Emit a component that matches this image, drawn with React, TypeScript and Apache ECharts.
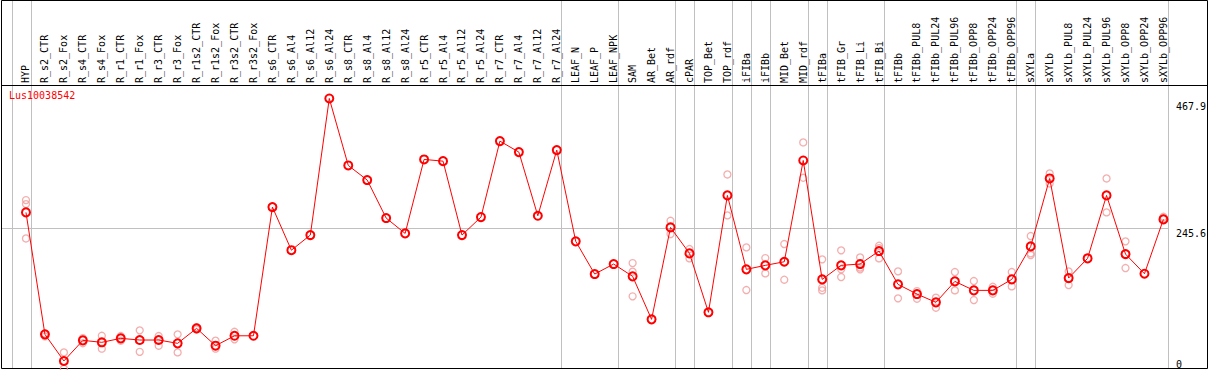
import React, { useEffect, useRef } from "react";
import * as echarts from "echarts";

const geneId = "Lus10038542";

const categories = [
  "HYP", "R_s2_CTR", "R_s2_Fox", "R_s4_CTR", "R_s4_Fox", "R_r1_CTR", "R_r1_Fox", "R_r3_CTR", "R_r3_Fox",
  "R_r1s2_CTR", "R_r1s2_Fox", "R_r3s2_CTR", "R_r3s2_Fox", "R_s6_CTR", "R_s6_Al4", "R_s6_Al12", "R_s6_Al24",
  "R_s8_CTR", "R_s8_Al4", "R_s8_Al12", "R_s8_Al24", "R_r5_CTR", "R_r5_Al4", "R_r5_Al12", "R_r5_Al24",
  "R_r7_CTR", "R_r7_Al4", "R_r7_Al12", "R_r7_Al24", "LEAF_N", "LEAF_P", "LEAF_NPK", "SAM", "AR_Bet",
  "AR_rdf", "cPAR", "TOP_Bet", "TOP_rdf", "iFIBa", "iFIBb", "MID_Bet", "MID_rdf", "tFIBa", "tFIB_Gr",
  "tFIB_Li", "tFIB_Bi", "tFIBb", "tFIBb_PUL8", "tFIBb_PUL24", "tFIBb_PUL96", "tFIBb_OPP8", "tFIBb_OPP24",
  "tFIBb_OPP96", "sXYLa", "sXYLb", "sXYLb_PUL8", "sXYLb_PUL24", "sXYLb_PUL96", "sXYLb_OPP8", "sXYLb_OPP24",
  "sXYLb_OPP96",
];

const means = [
  273.5, 60.5, 14, 50, 46.6, 53.5, 50.6, 50.6, 44.8, 71, 40.7, 58, 58, 282.8, 207.5, 233.9, 472.5,
  355.5, 330, 263.6, 236.8, 366, 363, 233.9, 265.3, 398, 378.8, 267.6, 382.3, 222.9, 165.8, 183.3,
  161.8, 86.7, 247.3, 201.9, 99, 303.2, 174, 181, 187.3, 364.2, 156.5, 181, 183.3, 206, 147.8, 130.9,
  116.4, 153, 137.3, 137.3, 156.5, 214.1, 332.8, 158.8, 193.2, 303.2, 200.7, 166.4, 261.3,
];

const replicates: number[][] = [
  [295, 288, 228], [62, 57], [29, 0.5], [54, 45], [58, 35.5], [57.6, 49.4], [67.5, 30], [57.6, 40.7],
  [60.5, 29], [73, 69], [49.4, 35.5], [65, 51.8], [], [], [], [], [], [], [], [], [], [], [], [], [],
  [], [], [], [], [], [], [], [185, 170, 126.9], [], [258.9, 235.6], [209.5, 193.2], [], [339.8, 268.3],
  [212.4, 137.9], [193.7, 167], [218.2, 155.9], [395.7, 334], [191.5, 141.9, 137.3], [207.2, 174, 160.6],
  [195, 174, 177], [215.3, 211, 193.2], [170.5, 123.4], [136.1, 122.7], [124.5, 107], [169.3, 137.3],
  [153.6, 120.4], [143.7, 131.5], [169.3, 144.3], [232.2, 201.9, 199], [341.5, 324], [170.5, 146.6], [],
  [332.8, 273.5], [222.9, 176.3], [], [265.8, 263],
];

const yTickLabels = [0, 245.6, 467.9];
const gridValue = 245.6;
// index of the last category in each group (-1 = before the first one)
const groupEnds = [-1, 0, 28, 31, 34, 35, 37, 38, 39, 41, 42, 45, 52, 53, 60];

const FONT = "'DejaVu Sans Mono', monospace";
const GRAY = "#c0c0c0";

export default function App() {
  const ref = useRef<HTMLDivElement>(null);

  useEffect(() => {
    if (!ref.current) return;
    const chart = echarts.init(ref.current, null, { renderer: "svg" });

    const repData: [number, number][] = [];
    replicates.forEach((vals, i) => vals.forEach((v) => repData.push([i, v])));

    chart.setOption({
      animation: false,
      backgroundColor: "#ffffff",
      title: {
        text: geneId,
        left: 9,
        top: 90,
        padding: 0,
        textStyle: { color: "#ff0000", fontFamily: FONT, fontSize: 10, fontWeight: "normal" },
      },
      grid: { left: 16.5, right: 33.5, top: 85, bottom: 1 },
      xAxis: [
        {
          type: "category",
          position: "top",
          data: categories,
          boundaryGap: true,
          axisLine: { show: false },
          axisTick: { show: false },
          splitLine: { show: false },
          axisLabel: {
            rotate: 90,
            interval: 0,
            margin: 2,
            color: "#000",
            fontFamily: FONT,
            fontSize: 10,
          },
        },
        {
          type: "value",
          position: "top",
          min: -0.5,
          max: categories.length - 0.5,
          show: false,
        },
      ],
      yAxis: {
        type: "value",
        position: "right",
        min: 0,
        max: 496,
        axisLine: { show: false },
        axisTick: { show: false },
        splitLine: { show: false },
        axisLabel: {
          customValues: yTickLabels,
          showMinLabel: true,
          showMaxLabel: true,
          margin: 3,
          color: "#000",
          fontFamily: FONT,
          fontSize: 10,
          verticalAlign: "top",
          verticalAlignMinLabel: "bottom",
          formatter: (v: number) => String(v),
        },
      },
      series: [
        {
          type: "scatter",
          data: repData,
          symbol: "circle",
          symbolSize: 7,
          itemStyle: { color: "transparent", borderColor: "#f09a9a", borderWidth: 1.3 },
          z: 2,
        },
        {
          type: "line",
          data: means,
          symbol: "circle",
          symbolSize: 8,
          showAllSymbol: true,
          lineStyle: { color: "#ff0000", width: 1 },
          itemStyle: { color: "transparent", borderColor: "#ff0000", borderWidth: 2 },
          z: 3,
        },
      ],
    });

    const yGrid = chart.convertToPixel({ yAxisIndex: 0 }, gridValue) as number;
    const sepX = groupEnds.map(
      (k) => Math.round(chart.convertToPixel({ xAxisIndex: 1 }, k + 0.24) as number) + 0.5
    );
    const yg = Math.round(yGrid) + 0.5;
    const lastX = sepX[sepX.length - 1];

    const graphic: any[] = [];
    sepX.forEach((x) =>
      graphic.push({
        type: "line",
        silent: true,
        z: 0,
        shape: { x1: x, y1: 0, x2: x, y2: 369 },
        style: { stroke: GRAY, lineWidth: 1 },
      })
    );
    graphic.push({
      type: "line",
      silent: true,
      z: 0,
      shape: { x1: 1, y1: yg, x2: lastX, y2: yg },
      style: { stroke: GRAY, lineWidth: 1 },
    });
    graphic.push({
      type: "line",
      silent: true,
      z: 1,
      shape: { x1: 1, y1: 85.5, x2: 1208, y2: 85.5 },
      style: { stroke: "#000", lineWidth: 1 },
    });
    graphic.push({
      type: "rect",
      silent: true,
      z: 1,
      shape: { x: 1.5, y: 0.5, width: 1206, height: 368 },
      style: { fill: "none", stroke: "#000", lineWidth: 1 },
    });
    chart.setOption({ graphic });

    return () => chart.dispose();
  }, []);

  return (
    <div
      ref={ref}
      style={{ position: "fixed", left: 0, top: 0, width: 1209, height: 370, background: "#fff" }}
    />
  );
}
